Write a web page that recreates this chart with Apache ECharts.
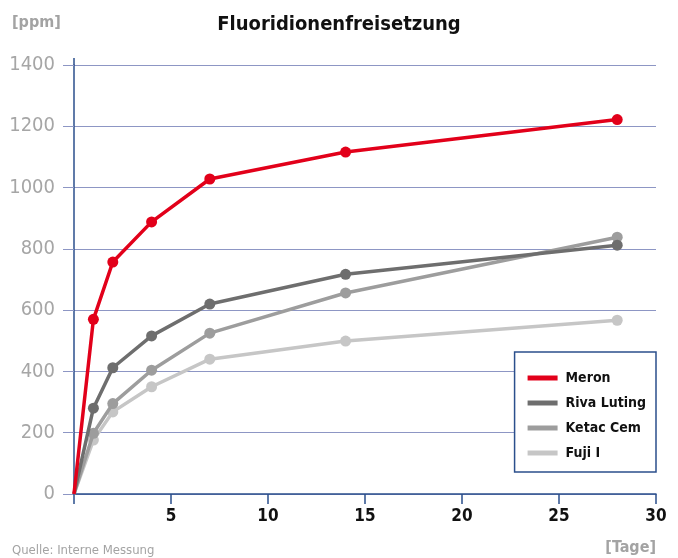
<!DOCTYPE html>
<html><head><meta charset="utf-8">
<script src="https://cdn.jsdelivr.net/npm/echarts@6/dist/echarts.min.js"></script>
<style>html,body{margin:0;padding:0;background:#fff}#c{width:678px;height:558px}</style>
</head><body><div id="c"></div>
<script>
var days = [0, 1, 2, 4, 7, 14, 28];
var meron = [0, 570, 757, 888, 1028, 1116, 1222];
var riva = [0, 280, 412, 516, 620, 717, 812];
var ketac = [0, 198, 295, 404, 525, 656, 838];
var fuji = [0, 176, 268, 350, 440, 499, 567];
var seriesNames = ['Meron', 'Riva Luting', 'Ketac Cem', 'Fuji I'];
var seriesColors = ['#e2001a', '#6e6e6e', '#9d9d9d', '#c6c6c6'];
var seriesData = [meron, riva, ketac, fuji];

var FN = '"Liberation Sans Narrow", "DejaVu Sans Condensed", sans-serif';
var chart = echarts.init(document.getElementById('c'));
var series = seriesData.map(function (vals, i) {
  return {
    name: seriesNames[i], type: 'line', z: 10 - i,
    data: vals.map(function (v, k) { return [days[k], v]; }),
    lineStyle: { color: seriesColors[i], width: 3.5 },
    itemStyle: { color: seriesColors[i] },
    symbol: 'circle', showSymbol: true,
    symbolSize: function (val) { return val[0] === 0 ? 0 : 11; },
    emphasis: { disabled: true }
  };
});
chart.setOption({
  animation: false,
  title: {
    text: 'Fluoridionenfreisetzung', left: 'center', top: 10,
    textStyle: { fontFamily: FN, fontWeight: 'bold', fontSize: 20, color: '#111' }
  },
  grid: { left: 74, right: 22, top: 65, bottom: 64 },
  legend: {
    orient: 'vertical', right: 22, top: 352,
    padding: [19, 10, 12, 13], itemGap: 11,
    backgroundColor: '#fff', borderColor: '#2b4f8c', borderWidth: 1.5,
    itemWidth: 30, itemHeight: 5, icon: 'rect',
    data: seriesNames,
    textStyle: { fontFamily: FN, fontWeight: 'bold', fontSize: 14, color: '#111', padding: [0, 0, 0, 3] }
  },
  xAxis: {
    type: 'value', min: 0, max: 30, interval: 5,
    axisLine: { show: true, onZero: false, lineStyle: { color: '#2b4f8c', width: 1.5 } },
    axisTick: { show: true, inside: false, length: 10, lineStyle: { color: '#2b4f8c', width: 1.5 } },
    axisLabel: {
      margin: 14, fontFamily: FN, fontWeight: 'bold', fontSize: 17, color: '#111',
      formatter: function (v) { return v === 0 ? '' : String(v); }
    },
    splitLine: { show: false }
  },
  yAxis: {
    type: 'value', min: 0, max: 1400, interval: 200,
    axisLine: { show: true, lineStyle: { color: '#2b4f8c', width: 1.5 } },
    axisTick: { show: true, length: 11, lineStyle: { color: '#8d96c4', width: 1 } },
    axisLabel: { margin: 19, fontFamily: FN, fontSize: 20, color: '#a6a6a6',
      formatter: function (v) { return String(v); } },
    splitLine: { show: true, lineStyle: { color: '#8d96c4', width: 1 } }
  },
  graphic: [
    { type: 'text', left: 12, top: 15, style: { text: '[ppm]', fontFamily: FN, fontWeight: 'bold', fontSize: 16, fill: '#a3a3a3' } },
    { type: 'text', left: 12, top: 544, style: { text: 'Quelle: Interne Messung', fontFamily: FN, fontSize: 13, fill: '#a3a3a3' } },
    { type: 'text', right: 22, top: 540, style: { text: '[Tage]', fontFamily: FN, fontWeight: 'bold', fontSize: 16, fill: '#a3a3a3' } },
    { type: 'line', shape: { x1: 74, y1: 58, x2: 74, y2: 66 }, style: { stroke: '#2b4f8c', lineWidth: 1.5 } }
  ],
  series: series
});
</script></body></html>
